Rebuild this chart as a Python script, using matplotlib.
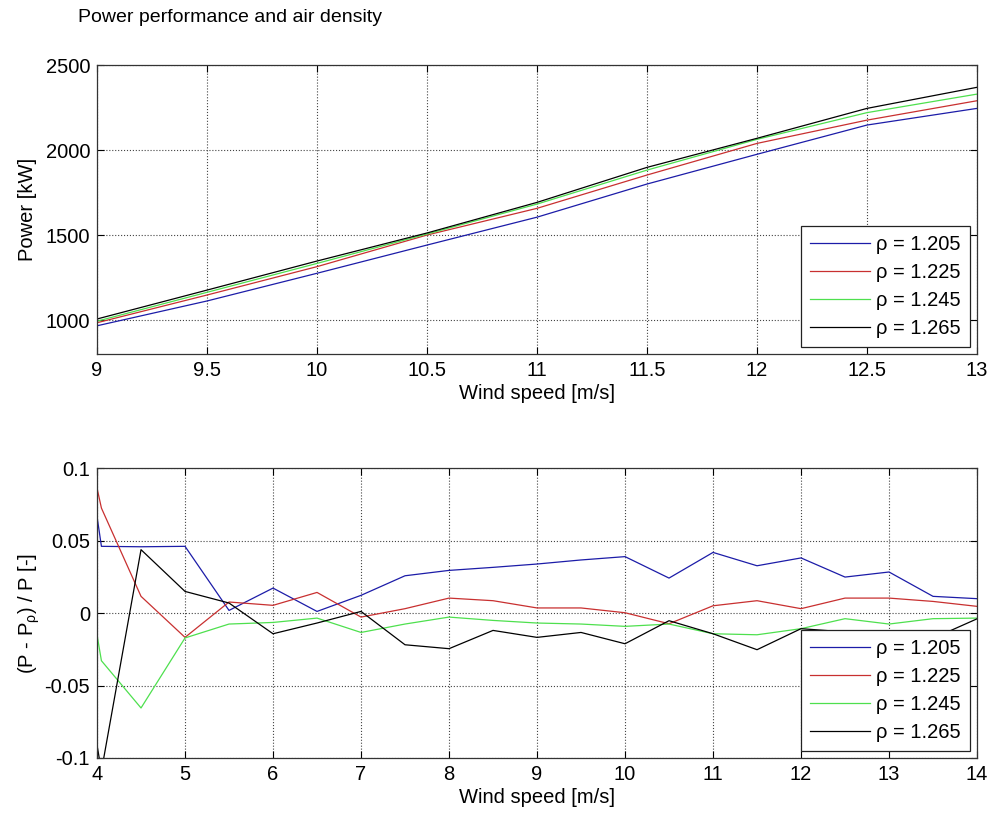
import matplotlib.pyplot as plt

plt.rcParams['font.family'] = ['Liberation Sans', 'DejaVu Sans']

# densities (legend)
rho_labels = ['ρ = 1.205', 'ρ = 1.225', 'ρ = 1.245', 'ρ = 1.265']
line_colors = ['#1c1ca8', '#c83030', '#4ee04e', '#000000']

# top: power curve, 9-13 m/s
ws_top = [9, 9.5, 10, 10.5, 11, 11.5, 12, 12.5, 13]
p_1205 = [966, 1112, 1275, 1441, 1605, 1800, 1975, 2147, 2245]
p_1225 = [984, 1147, 1314, 1500, 1657, 1853, 2039, 2176, 2290]
p_1245 = [993, 1163, 1333, 1506, 1682, 1882, 2063, 2220, 2329]
p_1265 = [1006, 1176, 1347, 1512, 1692, 1898, 2069, 2245, 2369]

# bottom: relative deviation, 4-14 m/s
ws_bot = [4, 4.05, 4.5, 5, 5.5, 6, 6.5, 7, 7.5, 8, 8.5, 9, 9.5, 10, 10.5,
          11, 11.5, 12, 12.5, 13, 13.5, 14]
d_1205 = [0.0666, 0.046, 0.0457, 0.046, 0.0018, 0.0172, 0.0011, 0.0122, 0.0257,
          0.0294, 0.0315, 0.0338, 0.0366, 0.0389, 0.0241, 0.0418, 0.0326,
          0.038, 0.0248, 0.0283, 0.0115, 0.0099]
d_1225 = [0.0862, 0.0724, 0.0115, -0.0168, 0.0076, 0.0053, 0.0142, -0.0028, 0.003,
          0.0103, 0.0085, 0.0035, 0.0035, 0.0002, -0.0074, 0.005, 0.0085,
          0.003, 0.0103, 0.0103, 0.008, 0.0046]
d_1245 = [-0.015, -0.0329, -0.0655, -0.0172, -0.0076, -0.0065, -0.0035, -0.0134, -0.0076,
          -0.0028, -0.0051, -0.0069, -0.0076, -0.0092, -0.0076, -0.0143, -0.015,
          -0.0108, -0.0039, -0.0076, -0.0039, -0.0035]
d_1265 = [-0.091, -0.109, 0.0437, 0.0149, 0.0069, -0.0143, -0.0069, 0.0011, -0.0219,
          -0.0246, -0.012, -0.0168, -0.0134, -0.0212, -0.0053, -0.0143, -0.0253,
          -0.0108, -0.013, -0.015, -0.0175, -0.004]

FS = 14.5


def style_axes(ax):
    ax.grid(True, linestyle=':', color='#444444', linewidth=0.8)
    ax.tick_params(direction='in', top=True, right=True, labelsize=FS, length=5, pad=5)
    for s in ax.spines.values():
        s.set_color('#333333')
        s.set_linewidth(0.9)


def add_legend(ax):
    leg = ax.legend(loc='lower right', fontsize=FS, handlelength=3.0, handletextpad=0.3,
                    labelspacing=0.45, borderpad=0.45, borderaxespad=0.35, fancybox=False,
                    edgecolor='#222222', framealpha=1)
    leg.get_frame().set_linewidth(0.9)


fig = plt.figure(figsize=(9.91, 8.14), dpi=100)

# top plot
ax1 = fig.add_axes([0.0979, 0.5651, 0.888, 0.355])
for vals, c, lab in zip([p_1205, p_1225, p_1245, p_1265], line_colors, rho_labels):
    ax1.plot(ws_top, vals, color=c, linewidth=0.9, label=lab)
ax1.set_xlim(9, 13)
ax1.set_ylim(800, 2500)
ax1.set_xticks([9, 9.5, 10, 10.5, 11, 11.5, 12, 12.5, 13])
ax1.set_xticklabels(['9', '9.5', '10', '10.5', '11', '11.5', '12', '12.5', '13'])
ax1.set_yticks([1000, 1500, 2000, 2500])
ax1.set_xlabel('Wind speed [m/s]', fontsize=FS, labelpad=3)
ax1.set_ylabel('Power [kW]', fontsize=FS, labelpad=6)
style_axes(ax1)
add_legend(ax1)

fig.text(0.079, 0.978, 'Power performance and air density', fontsize=14, va='center')

# bottom plot
ax2 = fig.add_axes([0.0979, 0.0688, 0.888, 0.3562])
for vals, c, lab in zip([d_1205, d_1225, d_1245, d_1265], line_colors, rho_labels):
    ax2.plot(ws_bot, vals, color=c, linewidth=0.9, label=lab)
ax2.set_xlim(4, 14)
ax2.set_ylim(-0.1, 0.1)
ax2.set_xticks(range(4, 15))
ax2.set_yticks([-0.1, -0.05, 0, 0.05, 0.1])
ax2.set_yticklabels(['-0.1', '-0.05', '0', '0.05', '0.1'])
ax2.set_xlabel('Wind speed [m/s]', fontsize=FS, labelpad=3)
ax2.set_ylabel(r'(P - P$_\mathregular{ρ}$) / P [-]', fontsize=FS, labelpad=2)
style_axes(ax2)
add_legend(ax2)

fig.savefig('out.png', dpi=100)
